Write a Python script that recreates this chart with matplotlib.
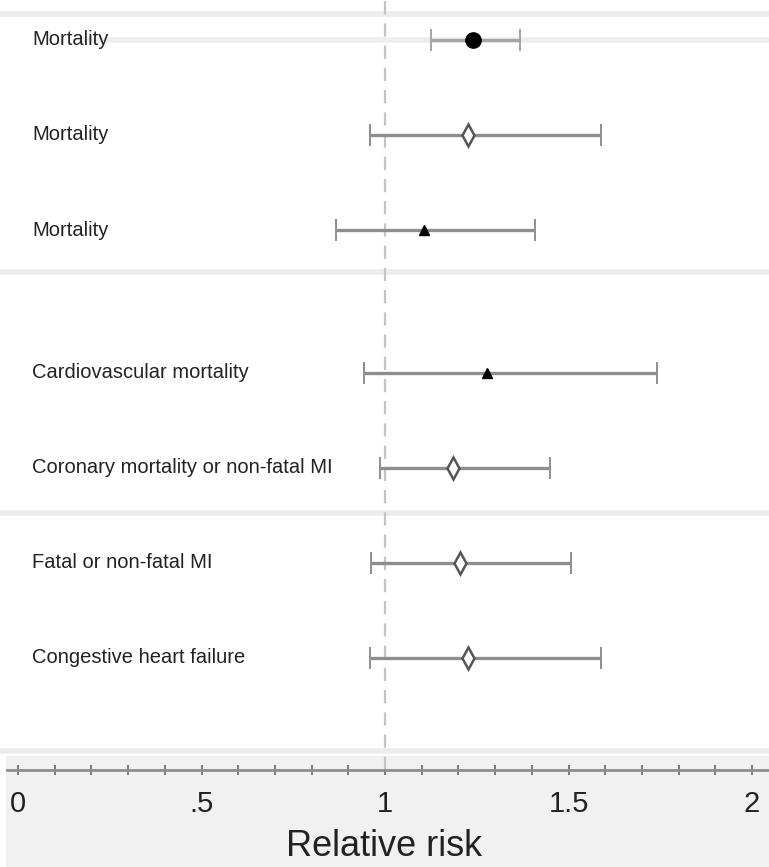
import matplotlib.pyplot as plt
from matplotlib.patches import Rectangle

outcomes = [
    "Mortality",
    "Mortality",
    "Mortality",
    "Cardiovascular mortality",
    "Coronary mortality or non-fatal MI",
    "Fatal or non-fatal MI",
    "Congestive heart failure",
]
rr = [1.24, 1.226, 1.106, 1.278, 1.185, 1.204, 1.226]
ci_low = [1.125, 0.959, 0.866, 0.943, 0.986, 0.962, 0.959]
ci_high = [1.368, 1.589, 1.409, 1.741, 1.450, 1.507, 1.589]
markers = ["o", "D", "^", "^", "D", "D", "D"]
filled = [True, False, True, True, False, False, False]

xticks = [0, 0.5, 1, 1.5, 2]
xticklabels = ["0", ".5", "1", "1.5", "2"]


def main():
    plt.rcParams['font.family'] = ['Liberation Sans', 'DejaVu Sans']
    fig = plt.figure(figsize=(7.69, 8.67), dpi=100)
    fig.patches.append(Rectangle((0.008, 0.0), 0.992, (867 - 756) / 867,
                                 transform=fig.transFigure, color='#f1f1f1', zorder=-5))
    ax = fig.add_axes([0, (867 - 770) / 867, 1, 770 / 867])
    ax.set_facecolor('none')
    ax.set_zorder(2)

    # row positions: two groups with a gap after the first three rows
    ypos = [0, 1, 2, 3.5, 4.5, 5.5, 6.5]
    ax.set_xlim(-0.049, 2.046)
    ax.set_ylim(7.68, -0.42)

    for sep in [-0.27, 2.44, 4.98, 7.48]:
        ax.axhline(sep, color='#ececec', lw=4, zorder=1)
    ax.axhline(ypos[0], xmin=0.105, color='#eeeeee', lw=4, zorder=1)
    ax.axvline(1, color='#c4c4c4', lw=1.6, ls=(0, (6, 4)), zorder=2)

    for i, name in enumerate(outcomes):
        y = ypos[i]
        ax.errorbar(rr[i], y, xerr=[[rr[i] - ci_low[i]], [ci_high[i] - rr[i]]],
                    fmt='none', ecolor='#8e8e8e' if i else '#a5a5a5',
                    elinewidth=2.4, capsize=8, capthick=1.4, zorder=3)
        if markers[i] == "D":
            ax.plot(rr[i], y, marker="d", ms=11, mfc='white', mec='#555555',
                    mew=1.8, ls='none', zorder=4)
        else:
            ax.plot(rr[i], y, marker=markers[i], ms=11 if markers[i] == "o" else 7,
                    mfc='black', mec='black', ls='none', zorder=4)
        ax.text(0.038, y, name, ha='left', va='center', fontsize=14.5, color='#222222')

    for s in ['top', 'right', 'left']:
        ax.spines[s].set_visible(False)
    ax.spines['bottom'].set_color('#8e8e8e')
    ax.spines['bottom'].set_linewidth(2)
    ax.spines['bottom'].set_bounds(-0.03, 2.046)
    ax.set_yticks([])
    ax.set_xticks(xticks)
    ax.set_xticklabels(xticklabels, fontsize=21, color='#222222')
    ax.set_xticks([i / 10 for i in range(21)], minor=True)
    ax.tick_params(axis='x', which='both', direction='inout', length=7, width=1.2,
                   color='#666666', pad=11)
    ax.set_xlabel("Relative risk", fontsize=26, color='#222222', labelpad=8)

    fig.savefig('out.png', dpi=100)


if __name__ == "__main__":
    main()
